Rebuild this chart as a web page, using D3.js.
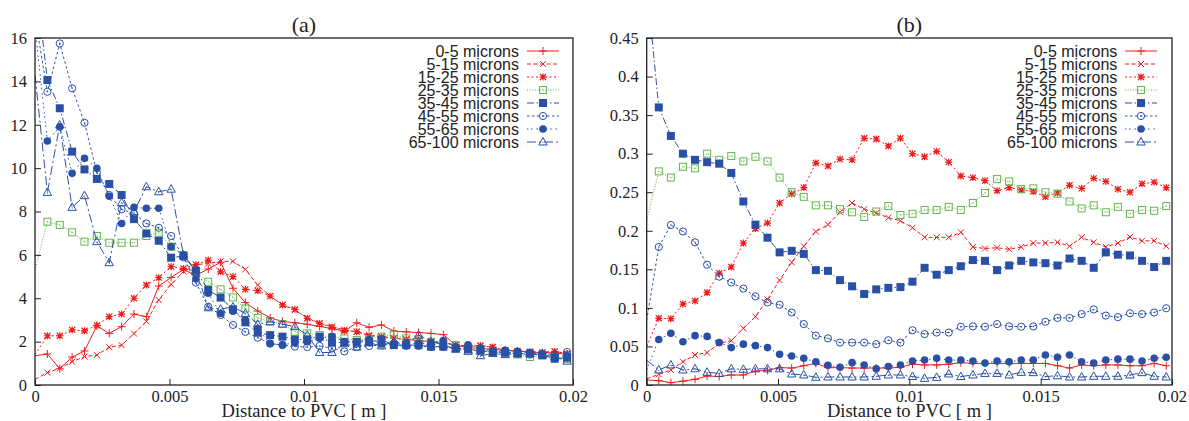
<!DOCTYPE html>
<html><head><meta charset="utf-8">
<script src="https://cdn.jsdelivr.net/npm/d3@7"></script>
<style>body{margin:0;background:#fff}svg{display:block}</style>
</head><body>
<svg id="c" width="1189" height="421"></svg>
<script>
// ---------- data ----------
const xValues = [0, 0.00046, 0.00092, 0.00138, 0.00184, 0.0023, 0.00276, 0.00322, 0.00368, 0.00414, 0.0046, 0.00506, 0.00552, 0.00598, 0.00644, 0.0069, 0.00736, 0.00782, 0.00828, 0.00874, 0.0092, 0.00966, 0.01012, 0.01058, 0.01104, 0.0115, 0.01196, 0.01242, 0.01288, 0.01334, 0.0138, 0.01426, 0.01472, 0.01518, 0.01564, 0.0161, 0.01656, 0.01702, 0.01748, 0.01794, 0.0184, 0.01886, 0.01932, 0.01978];

const seriesNames = ["0-5 microns", "5-15 microns", "15-25 microns", "25-35 microns", "35-45 microns", "45-55 microns", "55-65 microns", "65-100 microns"];

// panel (a)
const a_0_5 = [1.35, 1.43, 0.75, 1.29, 1.57, 2.73, 2.38, 2.69, 3.27, 3.15, 4.56, 4.96, 5.33, 5.05, 5.35, 5.66, 4.46, 3.8, 3.41, 3.1, 2.93, 2.87, 2.8, 2.7, 2.6, 2.48, 2.87, 2.66, 2.77, 2.49, 2.45, 2.42, 2.38, 2.32, 1.84, 1.72, 1.69, 1.64, 1.6, 1.57, 1.52, 1.49, 1.48, 1.41];
const a_5_15 = [0.26, 0.57, 0.77, 1.07, 1.31, 1.38, 1.74, 1.84, 2.37, 2.93, 3.92, 4.64, 5.23, 5.55, 5.6, 5.7, 5.7, 5.33, 4.61, 4.1, 3.7, 3.45, 3.1, 2.85, 2.7, 2.55, 2.45, 2.3, 2.25, 2.15, 2.1, 2.05, 2.0, 1.95, 1.85, 1.8, 1.8, 1.75, 1.6, 1.55, 1.55, 1.5, 1.55, 1.45];
const a_15_25 = [1.4, 2.27, 2.27, 2.54, 2.5, 2.75, 3.15, 3.27, 4.0, 4.61, 4.95, 5.46, 5.37, 5.55, 5.76, 5.22, 5.0, 4.41, 4.35, 4.1, 3.69, 3.49, 3.07, 2.84, 2.66, 2.5, 2.46, 2.27, 2.2, 2.15, 2.1, 2.05, 2.0, 1.95, 1.85, 1.8, 1.82, 1.75, 1.6, 1.55, 1.5, 1.5, 1.55, 1.45];
const a_25_35 = [5.3, 7.53, 7.38, 7.04, 6.61, 6.87, 6.56, 6.56, 6.56, 6.87, 7.02, 6.38, 5.99, 5.22, 4.76, 4.41, 4.04, 3.53, 3.1, 2.92, 2.81, 2.46, 2.38, 2.3, 2.2, 2.15, 2.08, 2.1, 2.23, 2.31, 2.15, 2.1, 1.99, 1.91, 1.84, 1.69, 1.6, 1.52, 1.48, 1.41, 1.29, 1.37, 1.29, 1.21];
const a_35_45 = [19, 14.06, 12.76, 10.76, 9.94, 9.5, 9.27, 8.76, 7.65, 6.99, 6.65, 5.87, 5.95, 5.27, 4.38, 4.03, 3.49, 2.89, 2.41, 2.3, 2.23, 2.1, 2.1, 2.23, 1.95, 1.97, 1.99, 1.99, 2.08, 1.84, 1.84, 1.84, 1.77, 1.77, 1.69, 1.64, 1.6, 1.52, 1.5, 1.45, 1.45, 1.37, 1.21, 1.26];
const a_45_55 = [17, 13.52, 15.75, 13.68, 12.09, 9.79, 8.76, 8.1, 7.91, 7.45, 7.25, 6.87, 5.89, 4.72, 3.61, 3.23, 2.77, 2.45, 2.18, 1.92, 1.84, 1.77, 1.75, 1.8, 1.7, 1.55, 1.75, 1.8, 1.85, 1.85, 1.8, 1.8, 1.75, 1.75, 1.7, 1.65, 1.55, 1.55, 1.5, 1.45, 1.4, 1.45, 1.4, 1.52];
const a_55_65 = [16.5, 11.25, 11.9, 9.76, 10.45, 9.99, 8.7, 7.45, 8.19, 8.15, 8.15, 6.38, 5.99, 4.9, 4.23, 3.3, 3.4, 3.0, 2.6, 1.9, 1.85, 1.95, 2.0, 2.15, 2.25, 2.0, 2.0, 2.1, 1.9, 1.9, 1.95, 1.9, 1.95, 2.05, 1.75, 1.85, 1.7, 1.55, 1.6, 1.55, 1.5, 1.4, 1.3, 1.35];
const a_65_100 = [14.3, 8.88, 11.99, 8.19, 8.73, 6.61, 5.64, 8.41, 7.99, 9.14, 8.91, 9.03, 5.99, 5.3, 3.56, 3.5, 3.6, 3.3, 2.8, 2.92, 2.81, 2.69, 2.3, 1.5, 1.5, 1.9, 1.75, 1.95, 1.8, 2.0, 1.9, 2.3, 2.0, 1.85, 1.65, 1.55, 1.35, 1.45, 1.4, 1.45, 1.45, 1.4, 1.3, 1.1];

// panel (b)
const b_0_5 = [0.0065, 0.0056, 0.003, 0.005, 0.0074, 0.0117, 0.011, 0.013, 0.013, 0.018, 0.019, 0.0225, 0.022, 0.025, 0.028, 0.0225, 0.0225, 0.022, 0.022, 0.022, 0.022, 0.023, 0.027, 0.026, 0.026, 0.027, 0.029, 0.028, 0.028, 0.028, 0.028, 0.028, 0.028, 0.028, 0.025, 0.022, 0.026, 0.025, 0.026, 0.026, 0.025, 0.025, 0.028, 0.025];
const b_5_15 = [0.008, 0.0138, 0.0195, 0.0302, 0.0389, 0.042, 0.054, 0.0575, 0.0735, 0.0886, 0.111, 0.136, 0.159, 0.18, 0.199, 0.208, 0.224, 0.236, 0.228, 0.223, 0.217, 0.213, 0.204, 0.1915, 0.1915, 0.1915, 0.198, 0.179, 0.177, 0.178, 0.176, 0.179, 0.184, 0.184, 0.185, 0.18, 0.1915, 0.185, 0.179, 0.184, 0.192, 0.187, 0.187, 0.18];
const b_15_25 = [0.05, 0.0865, 0.086, 0.105, 0.109, 0.12, 0.145, 0.153, 0.184, 0.203, 0.21, 0.236, 0.248, 0.256, 0.288, 0.284, 0.293, 0.292, 0.32, 0.319, 0.31, 0.32, 0.3, 0.296, 0.303, 0.289, 0.271, 0.269, 0.265, 0.252, 0.256, 0.253, 0.251, 0.244, 0.249, 0.259, 0.255, 0.268, 0.264, 0.254, 0.25, 0.261, 0.263, 0.256];
const b_25_35 = [0.214, 0.277, 0.269, 0.283, 0.281, 0.30, 0.292, 0.297, 0.29, 0.296, 0.29, 0.269, 0.25, 0.244, 0.233, 0.233, 0.228, 0.224, 0.218, 0.225, 0.232, 0.2205, 0.222, 0.227, 0.227, 0.231, 0.227, 0.236, 0.249, 0.267, 0.264, 0.254, 0.255, 0.25, 0.248, 0.238, 0.229, 0.233, 0.224, 0.231, 0.222, 0.227, 0.226, 0.232];
const b_35_45 = [0.52, 0.36, 0.323, 0.30, 0.292, 0.289, 0.287, 0.275, 0.238, 0.208, 0.191, 0.172, 0.174, 0.17, 0.149, 0.148, 0.136, 0.128, 0.118, 0.124, 0.126, 0.127, 0.134, 0.152, 0.143, 0.149, 0.154, 0.162, 0.161, 0.149, 0.155, 0.161, 0.159, 0.158, 0.155, 0.164, 0.161, 0.152, 0.172, 0.169, 0.168, 0.161, 0.153, 0.161];
const b_45_55 = [0.084, 0.179, 0.2075, 0.199, 0.185, 0.156, 0.1405, 0.133, 0.125, 0.115, 0.107, 0.104, 0.094, 0.079, 0.064, 0.0605, 0.055, 0.055, 0.055, 0.053, 0.058, 0.055, 0.071, 0.066, 0.068, 0.068, 0.0756, 0.076, 0.0756, 0.079, 0.076, 0.0756, 0.076, 0.082, 0.087, 0.087, 0.092, 0.098, 0.09, 0.088, 0.093, 0.092, 0.094, 0.0995];
const b_55_65 = [0.02, 0.059, 0.067, 0.056, 0.064, 0.063, 0.055, 0.0485, 0.053, 0.051, 0.0485, 0.0398, 0.0377, 0.0346, 0.030, 0.0256, 0.023, 0.029, 0.026, 0.0211, 0.024, 0.026, 0.031, 0.0324, 0.0346, 0.0324, 0.0324, 0.031, 0.0285, 0.031, 0.030, 0.0324, 0.0324, 0.039, 0.036, 0.039, 0.030, 0.0285, 0.0324, 0.0335, 0.0335, 0.031, 0.0346, 0.036];
const b_65_100 = [0.032, 0.0195, 0.026, 0.0195, 0.021, 0.0165, 0.015, 0.021, 0.0203, 0.021, 0.021, 0.021, 0.0143, 0.013, 0.01, 0.0104, 0.0104, 0.0104, 0.0104, 0.0113, 0.013, 0.013, 0.011, 0.0086, 0.0099, 0.0143, 0.011, 0.013, 0.015, 0.015, 0.013, 0.0164, 0.016, 0.011, 0.012, 0.0104, 0.0104, 0.0113, 0.0113, 0.0113, 0.013, 0.016, 0.0113, 0.0104];

const xTicks = [0, 0.005, 0.01, 0.015, 0.02];
const xTickLabels = ["0", "0.005", "0.01", "0.015", "0.02"];
const aTicksY = [0, 2, 4, 6, 8, 10, 12, 14, 16];
const aTickLabelsY = ["0", "2", "4", "6", "8", "10", "12", "14", "16"];
const bTicksY = [0, 0.05, 0.1, 0.15, 0.2, 0.25, 0.3, 0.35, 0.4, 0.45];
const bTickLabelsY = ["0", "0.05", "0.1", "0.15", "0.2", "0.25", "0.3", "0.35", "0.4", "0.45"];
const panelTitles = ["(a)", "(b)"];
const xAxisTitle = "Distance to PVC [ m ]";

// ---------- styles ----------
const RED = "#f01c1c", GREEN = "#62b84a", BLUE = "#2a50a6";
const styles = [
  {color: RED, dash: null, marker: "plus"},
  {color: RED, dash: "4,2.5", marker: "cross"},
  {color: RED, dash: "2,2.5", marker: "star"},
  {color: GREEN, dash: "1,1.6", marker: "osquare"},
  {color: BLUE, dash: "7,2.5,1.5,2.5", marker: "fsquare"},
  {color: BLUE, dash: "2.5,2.5", marker: "ocircle"},
  {color: BLUE, dash: "1.5,2.5,1.5,4", marker: "fcircle"},
  {color: BLUE, dash: "9,3,2,3", marker: "otriangle"}
];
const SERIF = "'Liberation Serif', 'Times New Roman', serif";
const SANS = "'Liberation Sans', Arial, sans-serif";

const svg = d3.select("#c");
svg.append("rect").attr("width", 1189).attr("height", 421).attr("fill", "#fff");

function drawMarker(g, type, color, cx, cy) {
  const t = `translate(${cx},${cy})`;
  if (type === "plus") {
    g.append("path").attr("transform", t).attr("d", "M-4,0H4M0,-4V4").attr("stroke", color).attr("stroke-width", 1).attr("fill", "none");
  } else if (type === "cross") {
    g.append("path").attr("transform", t).attr("d", "M-3,-3L3,3M-3,3L3,-3").attr("stroke", color).attr("stroke-width", 1).attr("fill", "none");
  } else if (type === "star") {
    g.append("path").attr("transform", t).attr("d", "M-3.5,0H3.5M0,-3.5V3.5M-3,-3L3,3M-3,3L3,-3").attr("stroke", color).attr("stroke-width", 1.2).attr("fill", "none");
  } else if (type === "osquare") {
    g.append("rect").attr("x", cx - 3.5).attr("y", cy - 3.5).attr("width", 7).attr("height", 7).attr("stroke", color).attr("stroke-width", 1).attr("fill", "none");
    g.append("circle").attr("cx", cx).attr("cy", cy).attr("r", 0.6).attr("fill", color);
  } else if (type === "fsquare") {
    g.append("rect").attr("x", cx - 4).attr("y", cy - 4).attr("width", 8).attr("height", 8).attr("fill", color);
  } else if (type === "ocircle") {
    g.append("circle").attr("cx", cx).attr("cy", cy).attr("r", 3.6).attr("stroke", color).attr("stroke-width", 1).attr("fill", "none");
    g.append("circle").attr("cx", cx).attr("cy", cy).attr("r", 0.8).attr("fill", color);
  } else if (type === "fcircle") {
    g.append("circle").attr("cx", cx).attr("cy", cy).attr("r", 3.8).attr("fill", color);
  } else if (type === "otriangle") {
    g.append("path").attr("transform", t).attr("d", "M0,-4.5L4.2,3L-4.2,3Z").attr("stroke", color).attr("stroke-width", 1).attr("fill", "none");
    g.append("circle").attr("cx", cx).attr("cy", cy + 0.5).attr("r", 0.6).attr("fill", color);
  }
}

function drawPanel(cfg) {
  const top = 38, bottom = 385;
  const x = d3.scaleLinear().domain([0, 0.02]).range([cfg.left, cfg.right]);
  const y = d3.scaleLinear().domain([0, cfg.ymax]).range([bottom, top]);
  const g = svg.append("g");
  const clipId = "clip" + cfg.id;
  svg.append("clipPath").attr("id", clipId).append("rect")
    .attr("x", cfg.left).attr("y", top).attr("width", cfg.right - cfg.left).attr("height", bottom - top);

  // series
  const plot = g.append("g").attr("clip-path", `url(#${clipId})`);
  cfg.series.forEach((vals, si) => {
    const st = styles[si];
    const pts = vals.map((v, i) => ({x: xValues[i], y: v}));
    plot.append("path").datum(pts)
      .attr("d", d3.line().x(d => x(d.x)).y(d => y(d.y)))
      .attr("fill", "none").attr("stroke", st.color).attr("stroke-width", 1)
      .attr("stroke-dasharray", st.dash);
    const mg = plot.append("g");
    pts.forEach(d => {
      if (d.x > 0 && d.y <= cfg.ymax) drawMarker(mg, st.marker, st.color, x(d.x), y(d.y));
    });
  });

  // axes
  const yAxis = d3.axisLeft(y).tickValues(cfg.yTicks).tickFormat((d, i) => cfg.yTickLabels[i])
    .tickSizeInner(-6).tickSizeOuter(0).tickPadding(8);
  const ya = g.append("g").attr("transform", `translate(${cfg.left},0)`).call(yAxis);
  const xAxis = d3.axisBottom(x).tickValues(xTicks).tickFormat((d, i) => xTickLabels[i])
    .tickSizeInner(-6).tickSizeOuter(0).tickPadding(5);
  const xa = g.append("g").attr("transform", `translate(0,${bottom})`).call(xAxis);
  [ya, xa].forEach(a => {
    a.attr("font-family", null).attr("font-size", null);
    a.select(".domain").remove();
    a.selectAll(".tick line").attr("stroke", "#222").attr("stroke-width", 1);
    a.selectAll(".tick text").style("font-family", SERIF)
      .style("font-size", "16.5px").attr("fill", "#222");
  });

  // frame
  g.append("rect").attr("x", cfg.left).attr("y", top).attr("width", cfg.right - cfg.left).attr("height", bottom - top)
    .attr("fill", "none").attr("stroke", "#222").attr("stroke-width", 1.3);

  // title & axis label
  g.append("text").attr("x", (cfg.left + cfg.right) / 2).attr("y", 32).attr("text-anchor", "middle")
    .style("font-family", SERIF).style("font-size", "22px").attr("fill", "#222")
    .text(cfg.title);
  g.append("text").attr("x", (cfg.left + cfg.right) / 2).attr("y", 416.5).attr("text-anchor", "middle")
    .style("font-family", SERIF).style("font-size", "18.5px").attr("fill", "#222")
    .text(xAxisTitle);

  // legend
  const lg = g.append("g");
  seriesNames.forEach((name, si) => {
    const st = styles[si];
    const cy = 51 + si * 13;
    lg.append("text").attr("x", cfg.legendTextX).attr("y", cy + 5.7).attr("text-anchor", "end")
      .style("font-family", SANS).style("font-size", "16px").attr("fill", "#222")
      .text(name);
    lg.append("line").attr("x1", cfg.legendLineX).attr("x2", cfg.legendLineX + 32).attr("y1", cy).attr("y2", cy)
      .attr("stroke", st.color).attr("stroke-width", 1).attr("stroke-dasharray", st.dash);
    drawMarker(lg, st.marker, st.color, cfg.legendLineX + 16, cy);
  });
}

drawPanel({id: "a", left: 35, right: 573, ymax: 16, yTicks: aTicksY, yTickLabels: aTickLabelsY,
  series: [a_0_5, a_5_15, a_15_25, a_25_35, a_35_45, a_45_55, a_55_65, a_65_100],
  title: panelTitles[0], legendTextX: 519, legendLineX: 527});
drawPanel({id: "b", left: 646.7, right: 1172, ymax: 0.45, yTicks: bTicksY, yTickLabels: bTickLabelsY,
  series: [b_0_5, b_5_15, b_15_25, b_25_35, b_35_45, b_45_55, b_55_65, b_65_100],
  title: panelTitles[1], legendTextX: 1117.3, legendLineX: 1125});
</script>
</body></html>
